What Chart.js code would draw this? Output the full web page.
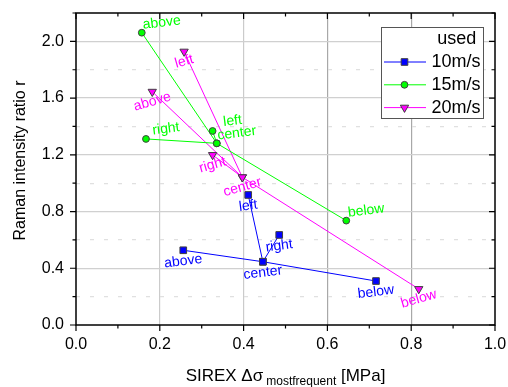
<!DOCTYPE html>
<html>
<head>
<meta charset="utf-8">
<script src="https://cdn.jsdelivr.net/npm/chart.js@4.4.1/dist/chart.umd.min.js"></script>
<style>
  html, body { margin: 0; padding: 0; background: #fff; }
  #wrap { width: 508px; height: 387px; position: relative; }
</style>
</head>
<body>
<div id="wrap"><canvas id="ramanChart"></canvas></div>
<script>
// measuring positions on the sample, same order in every array
const positions = ['above', 'center', 'below', 'left', 'right'];
// two polylines per series: above-center-below and left-center-right (-1 = break)
const pathOrder = [0, 1, 2, -1, 3, 1, 4];

const speedLabels = ['10m/s', '15m/s', '20m/s'];

// SIREX delta sigma [MPa] and Raman intensity ratio r
const sirex10 = [0.256, 0.446, 0.716, 0.411, 0.485];
const ratio10 = [0.527, 0.446, 0.310, 0.917, 0.635];
const sirex15 = [0.157, 0.336, 0.645, 0.326, 0.167];
const ratio15 = [2.061, 1.281, 0.736, 1.368, 1.312];
const sirex20 = [0.182, 0.397, 0.818, 0.258, 0.326];
const ratio20 = [1.645, 1.042, 0.254, 1.928, 1.199];

const fontFamily = '"Liberation Sans", Arial, sans-serif';

const series = [
  { xs: sirex10, ys: ratio10, color: '#0000ff', style: 'rect', radius: 4.7, rot: 0, dx: 0, dy: 11, angle: -7 },
  { xs: sirex15, ys: ratio15, color: '#00ff00', style: 'circle', radius: 3.4, rot: 0, dx: 20, dy: -10, angle: -7 },
  { xs: sirex20, ys: ratio20, color: '#ff00ff', style: 'triangle', radius: 4.8, rot: 180, dx: 0, dy: 10, angle: -16 }
];

function buildPoints(xs, ys) {
  return pathOrder.map(i => i < 0 ? { x: NaN, y: NaN } : { x: xs[i], y: ys[i] });
}

const datasets = series.map((s, k) => ({
  label: speedLabels[k],
  data: buildPoints(s.xs, s.ys),
  showLine: true,
  spanGaps: false,
  borderColor: s.color,
  borderWidth: 1,
  pointStyle: s.style,
  pointRadius: s.radius,
  pointHoverRadius: s.radius,
  pointRotation: s.rot,
  pointBackgroundColor: s.color,
  pointBorderColor: '#404040',
  pointBorderWidth: 1
}));

function tenths(ctx) {
  return ctx.tick ? Math.round(ctx.tick.value * 10) : -1;
}

// text next to every point
const pointLabels = {
  id: 'pointLabels',
  afterDatasetsDraw(chart) {
    const { ctx, scales: { x, y } } = chart;
    ctx.save();
    ctx.font = '14px ' + fontFamily;
    ctx.textAlign = 'center';
    ctx.textBaseline = 'middle';
    series.forEach(s => {
      ctx.fillStyle = s.color;
      s.xs.forEach((v, i) => {
        const px = x.getPixelForValue(v) + s.dx;
        const py = y.getPixelForValue(s.ys[i]) + s.dy;
        ctx.save();
        ctx.translate(px, py);
        ctx.rotate(s.angle * Math.PI / 180);
        ctx.fillText(positions[i], 0, 0);
        ctx.restore();
      });
    });
    ctx.restore();
  }
};

// box, tick marks, axis titles and legend
const frame = {
  id: 'frame',
  afterDraw(chart) {
    const { ctx, chartArea: a, scales: { x, y } } = chart;
    ctx.save();
    ctx.strokeStyle = '#000';
    ctx.lineWidth = 1.5;
    ctx.strokeRect(a.left, a.top, a.right - a.left, a.bottom - a.top);

    ctx.lineWidth = 1.2;
    ctx.beginPath();
    for (let t = 0; t <= 10; t++) {
      const px = x.getPixelForValue(t / 10);
      const len = t % 2 === 0 ? 6 : 3.5;
      ctx.moveTo(px, a.bottom); ctx.lineTo(px, a.bottom + len);
      ctx.moveTo(px, a.top); ctx.lineTo(px, a.top + len);
    }
    for (let t = 0; t <= 11; t++) {
      const py = y.getPixelForValue(t / 5);
      const len = t % 2 === 0 ? 6 : 3.5;
      ctx.moveTo(a.left, py); ctx.lineTo(a.left - len, py);
      ctx.moveTo(a.right, py); ctx.lineTo(a.right - len, py);
    }
    ctx.stroke();

    // x title with subscript
    ctx.fillStyle = '#000';
    ctx.textBaseline = 'alphabetic';
    ctx.textAlign = 'left';
    const big = '17px ' + fontFamily, small = '12px ' + fontFamily;
    const p1 = 'SIREX \u0394\u03c3', p2 = 'mostfrequent', p3 = ' [MPa]';
    ctx.font = big; const w1 = ctx.measureText(p1).width, w3 = ctx.measureText(p3).width;
    ctx.font = small; const w2 = ctx.measureText(p2).width;
    let tx = (a.left + a.right) / 2 - (w1 + w2 + w3 + 3) / 2;
    const ty = 381;
    ctx.font = big; ctx.fillText(p1, tx, ty); tx += w1 + 3;
    ctx.font = small; ctx.fillText(p2, tx, ty + 4); tx += w2;
    ctx.font = big; ctx.fillText(p3, tx, ty);

    // y title
    ctx.save();
    ctx.translate(21, 160.5);
    ctx.rotate(-Math.PI / 2);
    ctx.textAlign = 'center';
    ctx.textBaseline = 'middle';
    ctx.font = '16px ' + fontFamily;
    ctx.fillText('Raman intensity ratio r', 0, 0);
    ctx.restore();

    // legend
    const bx = 381, by = 27, bw = 102, bh = 91;
    ctx.fillStyle = '#fff';
    ctx.fillRect(bx, by, bw, bh);
    ctx.strokeStyle = '#555';
    ctx.lineWidth = 1;
    ctx.strokeRect(bx + 0.5, by + 0.5, bw, bh);
    ctx.font = '18px ' + fontFamily;
    ctx.fillStyle = '#000';
    ctx.textAlign = 'center';
    ctx.textBaseline = 'middle';
    ctx.fillText('used', 456.7, 39);
    ctx.textAlign = 'left';
    chart.data.datasets.forEach((ds, k) => {
      const ly = 62 + k * 22.8;
      ctx.strokeStyle = ds.borderColor;
      ctx.lineWidth = 1;
      ctx.beginPath(); ctx.moveTo(384, ly); ctx.lineTo(426, ly); ctx.stroke();
      ctx.fillStyle = ds.pointBackgroundColor;
      ctx.strokeStyle = ds.pointBorderColor;
      Chart.helpers.drawPoint(ctx, {
        pointStyle: ds.pointStyle, radius: ds.pointRadius, rotation: ds.pointRotation, borderWidth: 1
      }, 404.5, ly);
      ctx.fillStyle = '#000';
      ctx.fillText(ds.label, 431.5, ly);
    });
    ctx.restore();
  }
};

new Chart(document.getElementById('ramanChart'), {
  type: 'scatter',
  data: { datasets },
  options: {
    responsive: true,
    maintainAspectRatio: false,
    animation: false,
    layout: { padding: { top: 13, right: 13, left: 0, bottom: 0 } },
    plugins: { legend: { display: false }, tooltip: { enabled: false } },
    scales: {
      x: {
        type: 'linear', min: 0, max: 1,
        afterFit: s => { s.height = 62; s.paddingLeft = 0; s.paddingRight = 0; },
        border: { display: false },
        grid: {
          drawTicks: false, lineWidth: 1.2,
          color: c => {
            const v = tenths(c);
            if (v <= 0 || v >= 10) return 'rgba(0,0,0,0)';
            return v >= 6 ? '#a8a8a8' : '#cbcbcb';
          }
        },
        ticks: {
          stepSize: 0.2, autoSkip: false, maxRotation: 0, padding: 10, color: '#000',
          font: { family: fontFamily, size: 16 },
          callback: v => v.toFixed(1)
        }
      },
      y: {
        type: 'linear', min: 0, max: 2.2,
        afterFit: s => { s.width = 76; s.paddingTop = 0; s.paddingBottom = 0; },
        border: {
          display: false,
          dash: c => (c.tick && tenths(c) % 4 !== 0) ? [4, 10] : []
        },
        grid: {
          drawTicks: false, lineWidth: 1.2,
          color: c => {
            const v = tenths(c);
            if (v <= 0 || v >= 22) return 'rgba(0,0,0,0)';
            return v % 4 === 0 ? '#d0d0d0' : '#e0e0e0';
          }
        },
        ticks: {
          stepSize: 0.2, autoSkip: false, padding: 12, color: '#000',
          font: { family: fontFamily, size: 16 },
          callback: v => (Math.round(v * 10) % 4 === 0) ? v.toFixed(1) : ''
        }
      }
    }
  },
  plugins: [pointLabels, frame]
});
</script>
</body>
</html>
